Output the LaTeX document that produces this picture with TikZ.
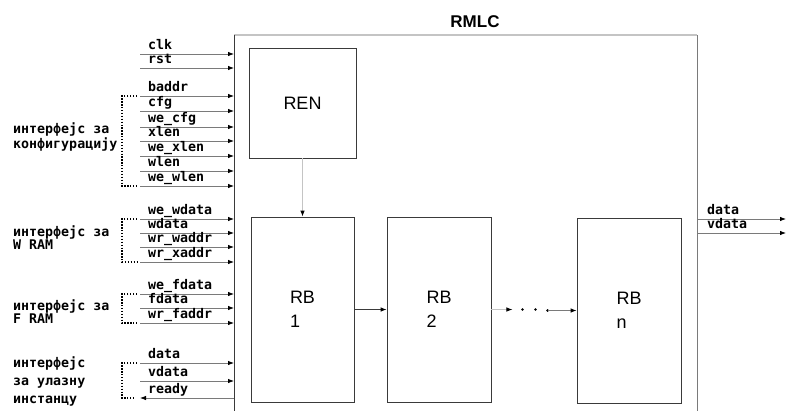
\documentclass[tikz,border=0pt]{standalone}
\usepackage{fontspec}
\setmainfont{Liberation Sans}
\newfontfamily\sigfont{DejaVu Sans Mono}
\usepackage{tikz}
\usetikzlibrary{positioning,calc,arrows.meta}
\definecolor{LineGray}{HTML}{7A7A7A}
\definecolor{EdgeDark}{HTML}{3A3A3A}
\definecolor{TopGray}{HTML}{C4C4C4}
\tikzset{
  sig/.style={draw=LineGray,line width=0.8pt,
    -{Latex[length=6pt,width=4.5pt,color=black]}},
  lbl/.style={font=\sigfont\bfseries\fontsize{13.3}{15}\selectfont,
    anchor=base west,inner sep=0pt,text=black},
  blk/.style={draw=EdgeDark,line width=0.8pt,inner sep=0pt,
    font=\fontsize{18}{24}\selectfont},
  brk/.style={draw=black,line width=1.3pt,dash pattern=on 1.3pt off 1.6pt},
}

\begin{document}
\begin{tikzpicture}[x=1pt,y=-1pt]
\useasboundingbox (0,0) rectangle (786,410);

% outer block, open at the bottom
\node[draw=none,minimum width=463,minimum height=390,anchor=north west,
  inner sep=0pt] (rmlc) at (234,35) {};
\draw[TopGray,line width=1.2pt] (rmlc.north west) -- (rmlc.north east);
\draw[EdgeDark,line width=0.8pt] (rmlc.north west) -- (rmlc.south west);
\draw[LineGray,line width=0.8pt] (rmlc.north east) -- (rmlc.south east);
\node[font=\bfseries\fontsize{17}{20}\selectfont,anchor=base] (title)
  at (475,27) {RMLC};

% inner blocks
\node[blk,minimum width=107,minimum height=110] (ren) at (302.5,103) {REN};
\node[blk,minimum width=103,minimum height=185,align=left] (rb1)
  at (302.5,309.5) {RB\\1};
\node[blk,minimum width=104,minimum height=185,align=left] (rb2)
  at (439,309.5) {RB\\2};
\node[blk,minimum width=104,minimum height=185,align=left] (rbn)
  at (629,310.5) {RB\\n};

\draw[sig,draw=TopGray] (ren.south) -- (rb1.north);
\draw[sig,draw=EdgeDark] (rb1.east) -- (rb2.west);
\coordinate (gap1) at ($(rb2.east)+(21,0)$);
\coordinate (gap2) at ($(rbn.west)+(-29,0)$);
\draw[sig,draw=TopGray] (rb2.east) -- (gap1);
\foreach \dx in {10,23} \fill ($(gap1)+(\dx,0)$) circle (1.4pt);
\fill (gap2) circle (1.4pt);
\draw[sig,draw=LineGray] (gap2) -- (rbn.west);

% input signals
\foreach \y/\txt [count=\i] in {54/clk,68/rst,96/baddr,111/cfg,127/we\_cfg,
  141/xlen,156/we\_xlen,171/wlen,186/we\_wlen,219/we\_wdata,233/wdata,
  247/wr\_waddr,262/wr\_xaddr,294/we\_fdata,308/fdata,323/wr\_faddr,
  363/data,381/vdata} {
  \coordinate (in\i) at (140,\y);
  \draw[sig] (in\i) -- (in\i -| rmlc.west);
  \node[lbl] (s\i) at (148,\y-5) {\txt};
}
\coordinate (in19) at (140,398);
\draw[sig] (in19 -| rmlc.west) -- (in19);
\node[lbl] (s19) at (148,393) {ready};

% interface brackets
\draw[brk] ([xshift=-3]in3) -- ++(-15,0) |- ([xshift=-3]in9);
\draw[brk] ([xshift=-3]in10) -- ++(-15,0) |- ([xshift=-3]in13);
\draw[brk] ([xshift=-3]in14) -- ++(-15,0) |- ([xshift=-3]in16);
\draw[brk] ([xshift=-3]in17) -- ++(-15,0) |- ([xshift=-7]in19);

\foreach \y/\txt [count=\k] in {133/интерфејс за,148/конфигурацију,
  236/интерфејс за,249/W RAM,310/интерфејс за,323/F RAM,
  367/интерфејс,385/за улазну,403/инстанцу}
  \node[lbl] (ifc\k) at (13,\y) {\txt};

% output signals
\foreach \y/\txt [count=\j] in {219/data,233/vdata} {
  \coordinate (out\j) at (786,\y);
  \draw[sig] (out\j -| rmlc.east) -- (out\j);
  \node[lbl] (o\j) at (707,\y-5) {\txt};
}
\end{tikzpicture}
\end{document}
